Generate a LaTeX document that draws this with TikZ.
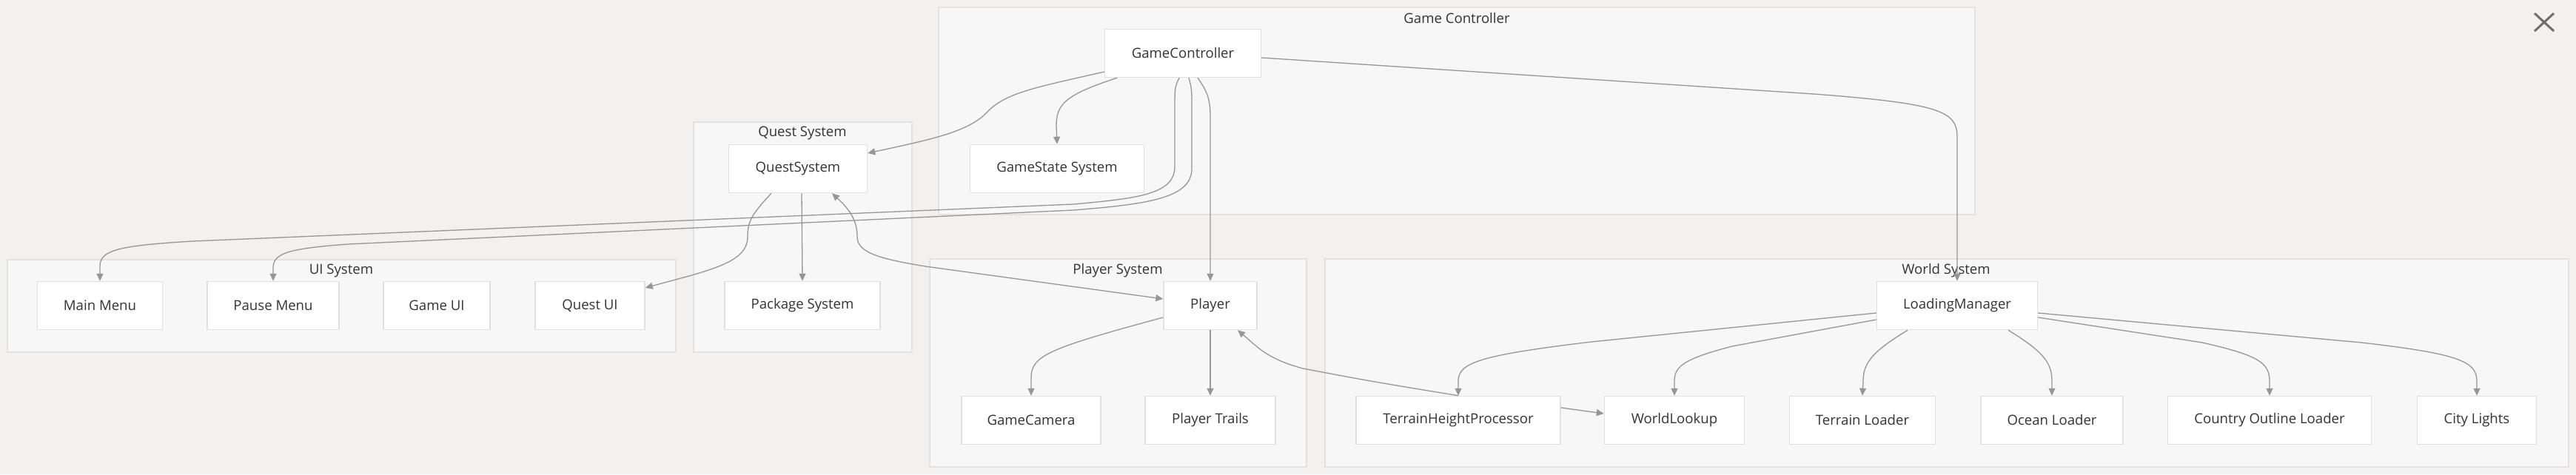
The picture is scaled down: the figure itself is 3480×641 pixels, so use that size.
\documentclass[tikz,border=0pt]{standalone}
\usepackage{fontspec}
\setmainfont{Open Sans}
\usetikzlibrary{positioning, arrows.meta}

\definecolor{bgcol}{HTML}{F2F1EF}
\definecolor{clusterfill}{HTML}{F7F7F7}
\definecolor{clusterline}{HTML}{E2E2E2}
\definecolor{nodeline}{HTML}{E0E0E0}
\definecolor{edgecol}{HTML}{969696}
\definecolor{txt}{HTML}{333333}
\definecolor{closecol}{HTML}{6E6E6E}

\tikzset{
	sysbox/.style={draw=clusterline, line width=1.5pt, fill=clusterfill},
	systitle/.style={text=txt, font=\fontsize{18.6}{22}\selectfont},
	comp/.style={draw=nodeline, line width=1.5pt, fill=white, minimum height=65pt, text=txt, font=\fontsize{18.6}{22}\selectfont},
	flow/.style={draw=edgecol, line width=1.3pt, -{Triangle[length=10pt,width=9pt]}},
}

\begin{document}
\begin{tikzpicture}[x=1pt, y=-1pt]
		\fill[bgcol] (0,0) rectangle (3480,641);
		\useasboundingbox (0,0) rectangle (3480,641);
		
		% subsystems
		\draw[sysbox] (1268,10) rectangle (2668,290);
		\draw[sysbox] (937,165) rectangle (1232,476);
		\draw[sysbox] (10,351) rectangle (913,476);
		\draw[sysbox] (1256,350) rectangle (1765,631);
		\draw[sysbox] (1790,350) rectangle (3470,631);
		\node[systitle] (tgc) at (1968,25) {Game Controller};
		\node[systitle] (tqs) at (1084,180) {Quest System};
		\node[systitle] (tui) at (461,366) {UI System};
		\node[systitle] (tps) at (1510,366) {Player System};
		\node[systitle] (tws) at (2629,366) {World System};
		
		% components
		\node[comp, minimum width=211pt] (gc) at (1598,72) {GameController};
		\node[comp, minimum width=235pt] (gss) at (1428,228) {GameState System};
		\node[comp, minimum width=187pt] (qs) at (1078,228) {QuestSystem};
		\node[comp, minimum width=169pt] (mm) at (135,413) {Main Menu};
		\node[comp, minimum width=178pt] (pm) at (369,413) {Pause Menu};
		\node[comp, minimum width=144pt] (gui) at (590,413) {Game UI};
		\node[comp, minimum width=148pt] (qui) at (797,413) {Quest UI};
		\node[comp, minimum width=210pt] (pkg) at (1084,413) {Package System};
		\node[comp, minimum width=126pt] (player) at (1635,413) {Player};
		\node[comp, minimum width=188pt] (cam) at (1393,568) {GameCamera};
		\node[comp, minimum width=176pt] (trails) at (1635,568) {Player Trails};
		\node[comp, minimum width=217pt] (lm) at (2644,413) {LoadingManager};
		\node[comp, minimum width=276pt] (thp) at (1970,568) {TerrainHeightProcessor};
		\node[comp, minimum width=189pt] (wl) at (2262,568) {WorldLookup};
		\node[comp, minimum width=197pt] (tl) at (2516,568) {Terrain Loader};
		\node[comp, minimum width=192pt] (ol) at (2772,568) {Ocean Loader};
		\node[comp, minimum width=275pt] (col) at (3066,568) {Country Outline Loader};
		\node[comp, minimum width=161pt] (cl) at (3346,568) {City Lights};
		
		% close mark
		\draw[closecol, line width=3pt] (3424,18) -- (3450,42);
		\draw[closecol, line width=3pt] (3424,42) -- (3450,18);
		
		% game controller
		\draw[flow] (gc.south west |- 0,97) .. controls (1400,118) and (1360,125) .. (1335,150) .. controls (1310,178) and (1260,188) .. (qs.north east |- 0,207);
		\draw[flow] ([xshift=-89pt]gc.south) .. controls (1440,128) and (1427,140) .. (1427,170) -- (gss.north);
		\draw[flow] ([xshift=-5pt]gc.south) .. controls (1587,118) .. (1587,150) -- (1587,225) .. controls (1587,262) and (1540,268) .. (1450,276) -- (260,326) .. controls (160,332) and (135,338) .. (135,360) -- (mm.north);
		\draw[flow] ([xshift=8pt]gc.south) .. controls (1610,120) .. (1610,150) -- (1610,228) .. controls (1610,268) and (1550,276) .. (1450,284) -- (470,330) .. controls (390,336) and (369,342) .. (369,362) -- (pm.north);
		\draw[flow] ([xshift=20pt]gc.south) .. controls (1632,125) and (1635,135) .. (1635,160) -- (player.north);
		\draw[flow] (gc.east |- 0,78) -- (2450,127) .. controls (2620,140) and (2644,150) .. (2644,185) -- (lm.north);
		
		% quest system
		\draw[flow] ([xshift=-36pt]qs.south) .. controls (1015,290) and (1010,300) .. (1010,320) .. controls (1010,355) and (960,365) .. (qui.north east |- 0,389);
		\draw[flow] ([xshift=5pt]qs.south) -- (pkg.north);
		\draw[{Triangle[length=10pt,width=9pt]}-{Triangle[length=10pt,width=9pt]}, draw=edgecol, line width=1.3pt] ([xshift=46pt]qs.south) .. controls (1150,285) and (1158,300) .. (1158,320) .. controls (1158,342) and (1190,350) .. (1250,360) -- (player.west |- 0,404);
		
		% player system
		\draw[flow] (player.west |- 0,429) .. controls (1420,470) and (1393,480) .. (1393,510) -- (cam.north);
		\draw[flow] (player.south) -- (trails.north);
		\draw[flow] (thp.north) .. controls (1850,515) .. (1760,498) .. controls (1712,485) and (1700,470) .. ([xshift=37pt]player.south);
		
		% world system
		\draw[flow] (thp.east |- 0,551) -- (wl.west |- 0,559);
		\draw[flow] (lm.west |- 0,423) -- (2150,462) .. controls (2000,480) and (1970,490) .. (1970,515) -- (thp.north);
		\draw[flow] (lm.west |- 0,432) -- (2340,468) .. controls (2275,485) and (2262,495) .. (2262,515) -- (wl.north);
		\draw[flow] ([xshift=-67pt]lm.south) .. controls (2530,475) and (2517,490) .. (2517,515) -- (tl.north);
		\draw[flow] ([xshift=69pt]lm.south) .. controls (2760,475) and (2772,490) .. (2772,515) -- (ol.north);
		\draw[flow] (lm.east |- 0,429) -- (2975,463) .. controls (3050,480) and (3066,490) .. (3066,515) -- (col.north);
		\draw[flow] (lm.east |- 0,423) -- (3190,463) .. controls (3320,478) and (3346,488) .. (3346,515) -- (cl.north);
	\end{tikzpicture}
\end{document}
